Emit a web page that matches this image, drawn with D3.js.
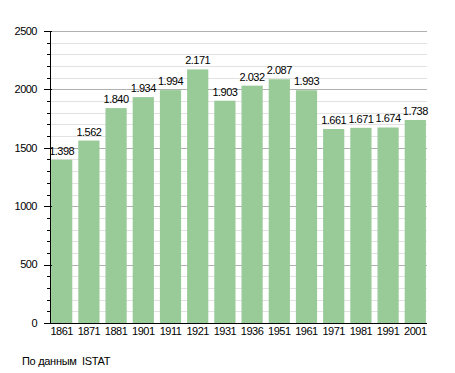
<!DOCTYPE html>
<html><head><meta charset="utf-8">
<script src="https://cdn.jsdelivr.net/npm/d3@7"></script>
<style>body{margin:0;background:#fff}svg{display:block}text{font-family:"Liberation Sans",Arial,sans-serif;font-size:11px;fill:#000;letter-spacing:-0.5px}</style>
</head><body>
<script>
const years = ["1861","1871","1881","1901","1911","1921","1931","1936","1951","1961","1971","1981","1991","2001"];
const population = [1398,1562,1840,1934,1994,2171,1903,2032,2087,1993,1661,1671,1674,1738];
const majorTicks = [0,500,1000,1500,2000,2500];
const minorTicks = d3.range(0,2501,100);
const sourceNote = "По данным  ISTAT";

const W=455,H=373;
const svg=d3.select("body").append("svg").attr("width",W).attr("height",H);
const x0=50,x1=427,yTop=31,yBot=323;
const y=d3.scaleLinear().domain([0,2500]).range([yBot,yTop]);
const x=d3.scaleBand().domain(years).range([x0,x1]).paddingInner(0.22).paddingOuter(0.04);
const fmt=v=>d3.format(",")(v).replace(/,/g,".");
const py=d=>Math.round(y(d))+0.5;

// grid
svg.append("g").selectAll("line").data(minorTicks.filter(v=>v%500!==0)).join("line")
 .attr("x1",x0).attr("x2",x1).attr("y1",py).attr("y2",py)
 .attr("stroke","#e2e2e2").attr("stroke-width",1);
svg.append("g").selectAll("line").data(majorTicks.filter(v=>v>0)).join("line")
 .attr("x1",x0).attr("x2",x1).attr("y1",py).attr("y2",py)
 .attr("stroke","#b0b0b0").attr("stroke-width",1);

// bars
svg.append("g").selectAll("rect").data(population).join("rect")
 .attr("x",(d,i)=>x(years[i])).attr("width",x.bandwidth())
 .attr("y",d=>y(d)).attr("height",d=>yBot-y(d)).attr("fill","#99cb98");

// value labels
svg.append("g").selectAll("text").data(population).join("text")
 .attr("x",(d,i)=>x(years[i])+x.bandwidth()/2).attr("y",d=>y(d)-5)
 .attr("text-anchor","middle").text(d=>fmt(d));

// y axis
svg.append("g").selectAll("line").data(majorTicks).join("line")
 .attr("x1",x0-6).attr("x2",x0+2).attr("y1",py).attr("y2",py).attr("stroke","#000");
svg.append("g").selectAll("line").data(minorTicks).join("line")
 .attr("x1",x0-3).attr("x2",x0).attr("y1",py).attr("y2",py).attr("stroke","#000");
svg.append("g").selectAll("text").data(majorTicks).join("text")
 .attr("x",37).attr("y",d=>y(d)).attr("dy","0.35em").attr("text-anchor","end").text(d=>d);
svg.append("line").attr("x1",x0+0.5).attr("x2",x0+0.5).attr("y1",yTop).attr("y2",yBot+1).attr("stroke","#000");

// x axis
svg.append("g").selectAll("text").data(years).join("text")
 .attr("x",d=>x(d)+x.bandwidth()/2).attr("y",335).attr("text-anchor","middle").text(d=>d);
svg.append("line").attr("x1",x0).attr("x2",x1).attr("y1",yBot+0.5).attr("y2",yBot+0.5).attr("stroke","#000");

svg.append("text").attr("x",22).attr("y",365).attr("xml:space","preserve").style("white-space","pre").style("letter-spacing","-0.3px").text(sourceNote);
</script>
</body></html>
